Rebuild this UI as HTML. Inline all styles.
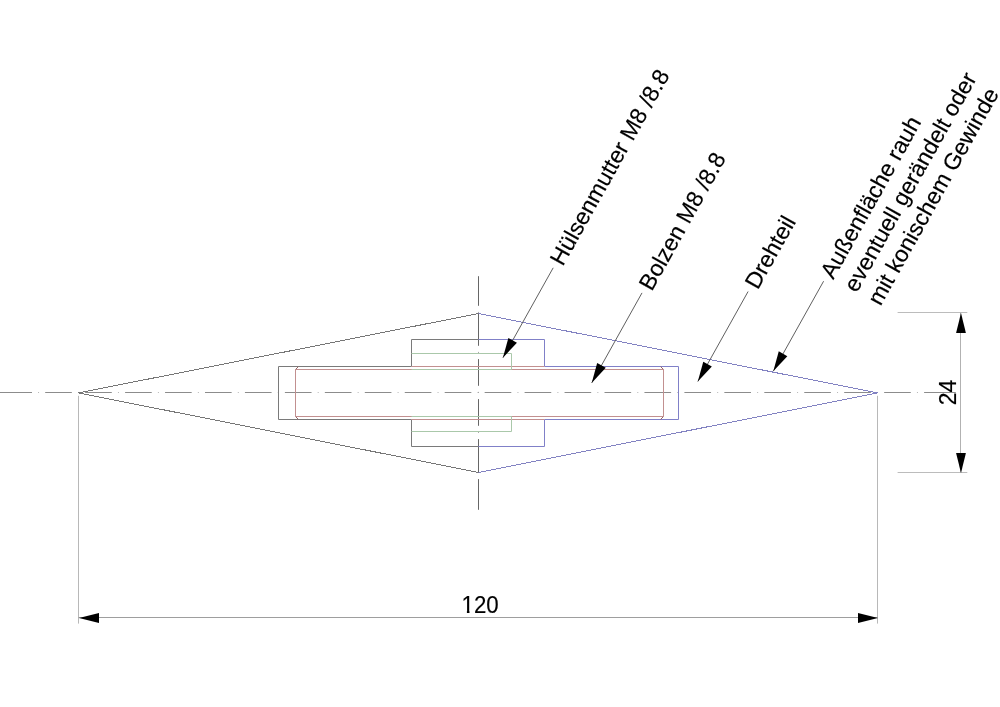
<!DOCTYPE html>
<html lang="de"><head><meta charset="utf-8"><title>Drehteil</title>
<style>html,body{margin:0;padding:0;background:#fff}body{width:1000px;height:707px;overflow:hidden}svg{display:block}text{font-family:"Liberation Sans",Arial,sans-serif;fill:#000;stroke:#000;stroke-width:0.16px}</style>
</head><body>
<svg width="1000" height="707" viewBox="0 0 1000 707">
<rect width="1000" height="707" fill="#fff"/>
<g id="centerlines">
<path d="M0 392.5H32" stroke="#8c8c8c" stroke-width="1" fill="none"/>
<path d="M45.20 392.5H71.85 M85.15 392.5H111.80 M125.10 392.5H151.75 M165.05 392.5H191.70 M205.00 392.5H231.65 M244.95 392.5H271.60 M284.90 392.5H311.55 M324.85 392.5H351.50 M364.80 392.5H391.45 M404.75 392.5H431.40 M444.70 392.5H471.35 M484.65 392.5H511.30 M524.60 392.5H551.25 M564.55 392.5H591.20 M604.50 392.5H631.15 M644.45 392.5H671.10 M684.40 392.5H711.05 M724.35 392.5H751.00 M764.30 392.5H790.95 M804.25 392.5H830.90 M844.20 392.5H870.85 M884.15 392.5H910.80 M924.10 392.5H955.80" stroke="#8c8c8c" stroke-width="1" fill="none"/>
<path d="M38.05 392.5h1 M78.00 392.5h1 M117.95 392.5h1 M157.90 392.5h1 M197.85 392.5h1 M237.80 392.5h1 M277.75 392.5h1 M317.70 392.5h1 M357.65 392.5h1 M397.60 392.5h1 M437.55 392.5h1 M477.50 392.5h1 M517.45 392.5h1 M557.40 392.5h1 M597.35 392.5h1 M637.30 392.5h1 M677.25 392.5h1 M717.20 392.5h1 M757.15 392.5h1 M797.10 392.5h1 M837.05 392.5h1 M877.00 392.5h1 M916.95 392.5h1" stroke="#b6b6b6" stroke-width="1" fill="none"/>
<path d="M478.5 276.2V305.8 M478.5 319.10V345.80 M478.5 359.10V385.80 M478.5 399.10V425.80 M478.5 439.10V465.80 M478.5 479.10V509.80" stroke="#666666" stroke-width="1" fill="none"/>
<path d="M478.5 311.90v1 M478.5 351.90v1 M478.5 391.90v1 M478.5 431.90v1 M478.5 471.90v1" stroke="#a0a0a0" stroke-width="1" fill="none"/>
</g>
<g id="body">
<polyline points="478.50,313.50 78.50,392.90 478.50,472.50" fill="none" stroke="#767676" stroke-width="1" shape-rendering="crispEdges"/>
<polyline points="478.50,313.50 877.50,392.90 478.50,472.50" fill="none" stroke="#8282c2" stroke-width="1" shape-rendering="crispEdges"/>
<line x1="478.50" y1="313.50" x2="478.50" y2="339.50" stroke="#666666" stroke-width="1" />
<line x1="478.50" y1="446.50" x2="478.50" y2="472.50" stroke="#666666" stroke-width="1" />
<polyline points="478.50,339.50 411.50,339.50 411.50,366.50" fill="none" stroke="#7a7a7a" stroke-width="1" />
<polyline points="478.50,446.50 411.50,446.50 411.50,419.50" fill="none" stroke="#7a7a7a" stroke-width="1" />
<polyline points="478.50,339.50 544.50,339.50 544.50,366.50" fill="none" stroke="#8080c8" stroke-width="1" />
<polyline points="478.50,446.50 544.50,446.50 544.50,419.50" fill="none" stroke="#8080c8" stroke-width="1" />
<polyline points="411.50,366.50 278.50,366.50 278.50,419.50 411.50,419.50" fill="none" stroke="#7a7a7a" stroke-width="1" />
<polyline points="544.50,366.50 678.50,366.50 678.50,419.50 544.50,419.50" fill="none" stroke="#8080c8" stroke-width="1" />
<line x1="295.50" y1="369.50" x2="295.50" y2="416.50" stroke="#c29090" stroke-width="1" />
<line x1="663.50" y1="369.50" x2="663.50" y2="416.50" stroke="#c29090" stroke-width="1" />
<line x1="298.50" y1="366.50" x2="295.50" y2="369.50" stroke="#946464" stroke-width="1" />
<line x1="295.50" y1="416.50" x2="298.50" y2="419.50" stroke="#946464" stroke-width="1" />
<line x1="660.50" y1="366.50" x2="663.50" y2="369.50" stroke="#946464" stroke-width="1" />
<line x1="663.50" y1="416.50" x2="660.50" y2="419.50" stroke="#946464" stroke-width="1" />
<line x1="295.50" y1="369.50" x2="663.50" y2="369.50" stroke="#c29090" stroke-width="1" />
<line x1="295.50" y1="416.50" x2="663.50" y2="416.50" stroke="#c29090" stroke-width="1" />
<line x1="411.50" y1="366.50" x2="544.50" y2="366.50" stroke="#c29090" stroke-width="1" />
<line x1="411.50" y1="419.50" x2="544.50" y2="419.50" stroke="#c29090" stroke-width="1" />
<polyline points="411.50,353.50 511.50,353.50 511.50,369.50 411.50,369.50" fill="none" stroke="#aac8aa" stroke-width="1" />
<polyline points="411.50,431.50 511.50,431.50 511.50,416.50 411.50,416.50" fill="none" stroke="#aac8aa" stroke-width="1" />
</g>
<g id="dimensions">
<line x1="78.50" y1="395.80" x2="78.50" y2="623.60" stroke="#b8b8b8" stroke-width="1" />
<line x1="877.50" y1="395.80" x2="877.50" y2="623.60" stroke="#b8b8b8" stroke-width="1" />
<line x1="78.50" y1="617.50" x2="877.50" y2="617.50" stroke="#9e9e9e" stroke-width="1" />
<polygon points="79.00,618.00 99.00,613.10 99.00,622.90" fill="#000"/>
<polygon points="878.00,618.00 858.00,622.90 858.00,613.10" fill="#000"/>
<text transform="translate(480.15 612.75) scale(0.968 1.022)" font-size="23.0" text-anchor="middle">120</text>
<path d="M462 610.7h4.9v3.4h-4.9zM469.5 610.7h4.2v3.4h-4.2z" fill="#fff"/>
<line x1="897.60" y1="312.50" x2="967.30" y2="312.50" stroke="#bcbcbc" stroke-width="1" />
<line x1="897.60" y1="472.50" x2="967.30" y2="472.50" stroke="#bcbcbc" stroke-width="1" />
<line x1="960.50" y1="312.50" x2="960.50" y2="472.50" stroke="#b2b2b2" stroke-width="1" />
<polygon points="961.00,313.00 965.90,333.00 956.10,333.00" fill="#000"/>
<polygon points="961.00,473.00 956.10,453.00 965.90,453.00" fill="#000"/>
<text transform="translate(956.4 392.40) rotate(-90) scale(1.0 1.022)" font-size="23.0" text-anchor="middle">24</text>
</g>
<g id="leaders">
<line x1="553.20" y1="267.80" x2="502.90" y2="357.80" stroke="#606060" stroke-width="1" />
<polygon points="502.90,357.80 508.38,337.95 516.93,342.73" fill="#000"/>
<g transform="translate(562.87 266.90) rotate(-60.8)">
<text x="0" y="0.00" font-size="23.0">Hülsenmutter M8 /8.8</text>
</g>
<line x1="642.00" y1="292.90" x2="591.70" y2="382.90" stroke="#606060" stroke-width="1" />
<polygon points="591.70,382.90 597.18,363.05 605.73,367.83" fill="#000"/>
<g transform="translate(651.67 292.00) rotate(-60.8)">
<text x="0" y="0.00" font-size="23.0">Bolzen M8 /8.8</text>
</g>
<line x1="748.10" y1="291.50" x2="697.80" y2="381.50" stroke="#606060" stroke-width="1" />
<polygon points="697.80,381.50 703.28,361.65 711.83,366.43" fill="#000"/>
<g transform="translate(757.77 290.60) rotate(-60.8)">
<text x="0" y="0.00" font-size="23.0">Drehteil</text>
</g>
<line x1="823.60" y1="281.20" x2="773.30" y2="371.20" stroke="#606060" stroke-width="1" />
<polygon points="773.30,371.20 778.78,351.35 787.33,356.13" fill="#000"/>
<g transform="translate(833.27 280.30) rotate(-60.8)">
<text x="0" y="0.00" font-size="23.0">Außenfläche rauh</text>
<text x="0" y="27.00" font-size="23.0">eventuell gerändelt oder</text>
<text x="0" y="54.00" font-size="23.0">mit konischem Gewinde</text>
</g>
</g>
</svg>
</body></html>
